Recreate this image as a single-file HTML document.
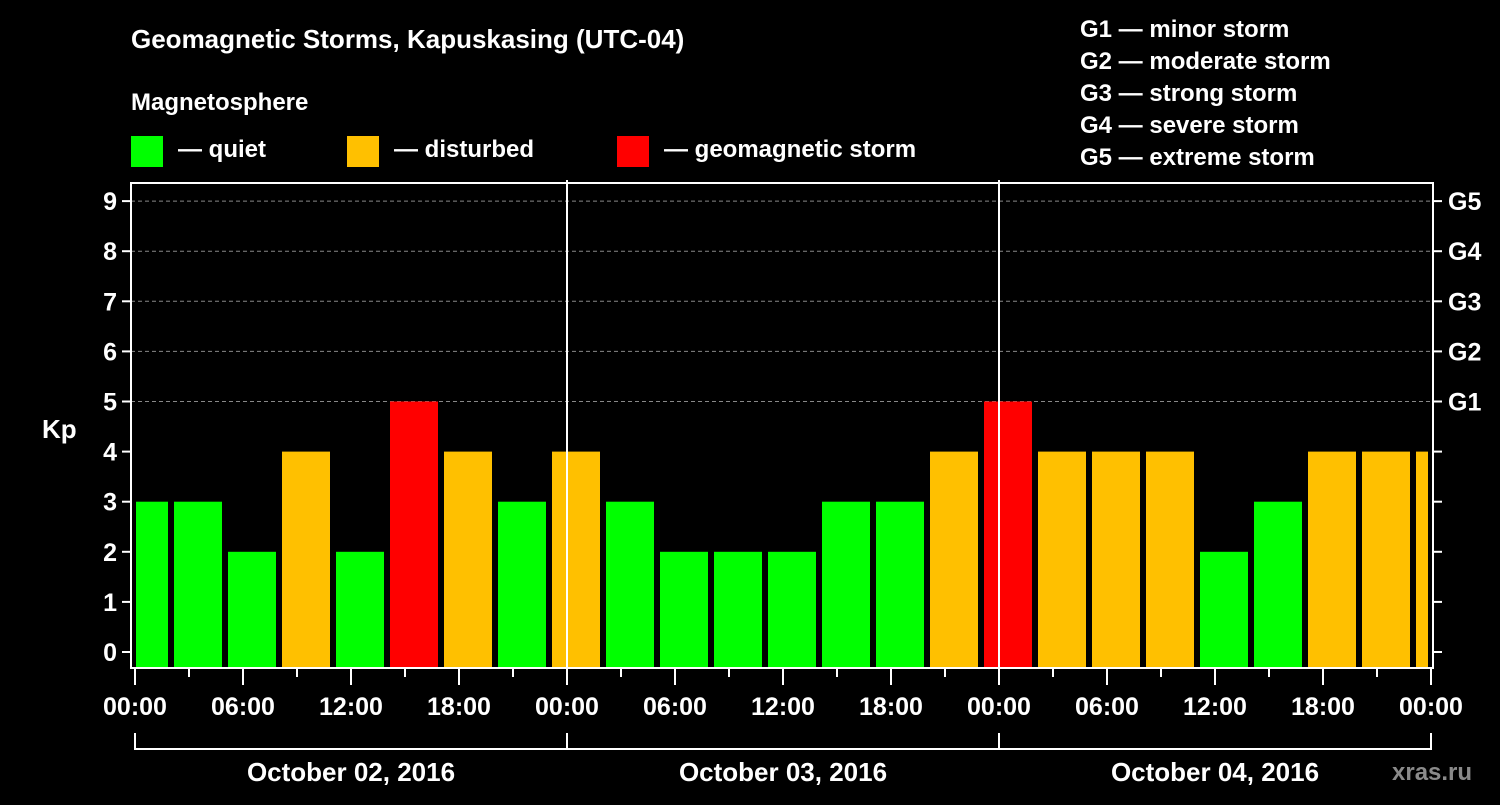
<!DOCTYPE html>
<html><head><meta charset="utf-8"><style>
body{margin:0;background:#000;width:1500px;height:800px;overflow:hidden}
text{font-family:"Liberation Sans",sans-serif;font-weight:bold;fill:#fff}
</style></head><body>
<svg id="c" width="1500" height="800">
<text x="131" y="48" font-size="26">Geomagnetic Storms, Kapuskasing (UTC-04)</text>
<text x="131" y="110" font-size="24">Magnetosphere</text>
<g><rect x="131" y="136" width="32" height="31" fill="#00ff00"/><text x="178" y="157" font-size="24">— quiet</text></g>
<g><rect x="347" y="136" width="32" height="31" fill="#ffc000"/><text x="394" y="157" font-size="24">— disturbed</text></g>
<g><rect x="617" y="136" width="32" height="31" fill="#ff0000"/><text x="664" y="157" font-size="24">— geomagnetic storm</text></g>
<g font-size="24">
<text x="1080" y="37">G1 — minor storm</text><text x="1080" y="69">G2 — moderate storm</text><text x="1080" y="101">G3 — strong storm</text><text x="1080" y="133">G4 — severe storm</text><text x="1080" y="165">G5 — extreme storm</text></g>
<text x="42" y="438" font-size="26">Kp</text>
<text x="1392" y="780" font-size="24" fill="#888" style="fill:#8a8a8a">xras.ru</text>
<g id="grid"></g><g id="bars"></g><g id="axes"></g>
</svg>
<script>
const kpValues=[3,3,2,4,2,5,4,3,4,3,2,2,2,3,3,4,5,4,4,4,2,3,4,4,4];
const yTicks=[0,1,2,3,4,5,6,7,8,9];
const gLabels=["G1","G2","G3","G4","G5"];
const xTickLabels=["00:00","06:00","12:00","18:00","00:00","06:00","12:00","18:00","00:00","06:00","12:00","18:00","00:00"];
const dayLabels=["October 02, 2016","October 03, 2016","October 04, 2016"];
const NS="http://www.w3.org/2000/svg";
const L=131,R=1433,T=183,B=668,X0=135,PXH=18;
const y=v=>652-v*50.1;
const x=h=>X0+h*PXH;
function mk(tag,attrs,parent,txt){const e=document.createElementNS(NS,tag);for(const k in attrs)e.setAttribute(k,attrs[k]);if(txt!=null)e.textContent=txt;document.getElementById(parent).appendChild(e);return e;}
// grid
for(const v of yTicks){if(v>=5){const g=mk('line',{x1:L,x2:R,y1:y(v),y2:y(v),stroke:'#888','stroke-dasharray':'4,3','stroke-width':1},'grid');

}}
// bars
kpValues.forEach((v,i)=>{const c=x(i*3+0.5);let x1=Math.max(c-24,L+5),x2=Math.min(c+24,R-5);
const col=v>=5?'#ff0000':v>=4?'#ffc000':'#00ff00';
const r=mk('rect',{x:x1,y:y(v),width:x2-x1,height:B-1-y(v),fill:col},'bars');

});
// frame
const f=mk('rect',{x:L,y:T,width:R-L,height:B-T,fill:'none',stroke:'#fff','stroke-width':2},'axes');


for(const d of [1,2]){const l=mk('line',{x1:x(d*24),x2:x(d*24),y1:T-3,y2:B,stroke:'#fff','stroke-width':2},'axes');

}
for(const v of yTicks){mk('line',{x1:L-9,x2:L,y1:y(v),y2:y(v),stroke:'#fff','stroke-width':2},'axes');
mk('line',{x1:R,x2:R+9,y1:y(v),y2:y(v),stroke:'#fff','stroke-width':2},'axes');
const t=mk('text',{x:L-14,y:y(v)+9,'font-size':25,'text-anchor':'end'},'axes',v);

}
gLabels.forEach((g,i)=>{const t=mk('text',{x:1448,y:y(5+i)+9,'font-size':25},'axes',g);

});
for(let h=0;h<=72;h+=3){mk('line',{x1:x(h),x2:x(h),y1:B,y2:h%6?677:685,stroke:'#fff','stroke-width':2},'axes');}
xTickLabels.forEach((s,i)=>{const t=mk('text',{x:x(i*6),y:715,'font-size':25,'text-anchor':'middle'},'axes',s);

});
mk('line',{x1:x(0),x2:x(72),y1:749,y2:749,stroke:'#fff','stroke-width':2},'axes');
for(const d of [0,1,2,3]){mk('line',{x1:x(d*24),x2:x(d*24),y1:733,y2:750,stroke:'#fff','stroke-width':2},'axes');}
dayLabels.forEach((s,i)=>{const t=mk('text',{x:x(i*24+12),y:781,'font-size':26,'text-anchor':'middle'},'axes',s);

});
</script>
</body></html>
